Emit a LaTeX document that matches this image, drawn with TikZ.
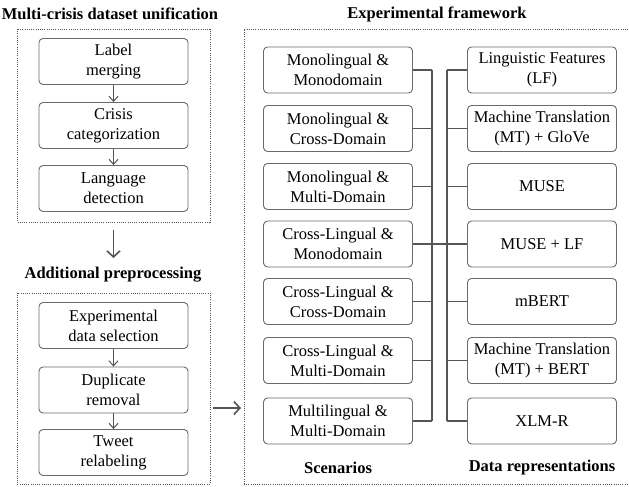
\documentclass[tikz,border=0pt]{standalone}
\usepackage{fontspec}
\setmainfont{Liberation Serif}
\usetikzlibrary{arrows.meta}
\definecolor{bordergray}{HTML}{6A6A6A}
\definecolor{linegray}{HTML}{555555}
\tikzset{
  box/.style={draw=bordergray, line width=0.9pt, rounded corners=4pt, minimum width=149pt, minimum height=46pt, inner sep=0pt, align=center, font=\fontsize{16.5}{20}\selectfont},
  title/.style={font=\fontsize{16.5}{20}\selectfont\bfseries, inner sep=0pt},
  frame/.style={draw=linegray, line width=0.9pt, dash pattern=on 1pt off 1.2pt},
  small/.style={draw=linegray, line width=1pt, -{Straight Barb[length=5pt,width=9pt]}},
  big/.style={draw=linegray, line width=1.6pt, -{Straight Barb[length=6pt,width=13pt]}},
  bus/.style={draw=linegray, line width=1.4pt}
}
\begin{document}
\begin{tikzpicture}[x=1pt,y=-1pt]
\useasboundingbox (0,0) rectangle (629,487);
% Left top panel
\node[title] (t1) at (110,14) {Multi-crisis dataset unification};
\draw[frame] (17,29) rectangle (210,222);
\node[box] (a1) at (113.5,61.5) {Label\\merging};
\node[box] (a2) at (113.5,125.5) {Crisis\\categorization};
\node[box] (a3) at (113.5,188.5) {Language\\detection};
\draw[small] (a1) -- (a2);
\draw[small] (a2) -- (a3);
\coordinate (d1) at (113.5,230);
\coordinate (d2) at (113.5,258);
\draw[big] (d1) -- (d2);
% Left bottom panel
\node[title] (t2) at (113,275) {Additional preprocessing};
\draw[frame] (17,293) rectangle (210,484);
\node[box] (b1) at (113.5,325.5) {Experimental\\data selection};
\node[box] (b2) at (113.5,390) {Duplicate\\removal};
\node[box] (b3) at (113.5,452.5) {Tweet\\relabeling};
\draw[small] (b1) -- (b2);
\draw[small] (b2) -- (b3);
\coordinate (r1) at (213,408);
\coordinate (r2) at (241,408);
\draw[big] (r1) -- (r2);
% Right panel
\node[title] (t3) at (437,14) {Experimental framework};
\draw[frame] (244,484) -- (244,29) -- (640,29);
\draw[frame] (244,484) -- (640,484);
\foreach \n/\y/\txt in {1/70/{Monolingual \&\\Monodomain},2/128.5/{Monolingual \&\\Cross-Domain},3/186.5/{Monolingual \&\\Multi-Domain},4/244/{Cross-Lingual \&\\Monodomain},5/301.5/{Cross-Lingual \&\\Cross-Domain},6/360.5/{Cross-Lingual \&\\Multi-Domain},7/421/{Multilingual \&\\Multi-Domain}}{
  \node[box] (s\n) at (338,\y) {\txt};
}
\foreach \n/\y/\txt in {1/70/{Linguistic Features\\(LF)},2/128.5/{Machine Translation\\(MT) + GloVe},3/186.5/{MUSE},4/244/{MUSE + LF},5/301.5/{mBERT},6/360.5/{Machine Translation\\(MT) + BERT},7/421/{XLM-R}}{
  \node[box] (m\n) at (542,\y) {\txt};
}
\coordinate (lb1) at (432,70);
\coordinate (lb7) at (432,421);
\coordinate (rb1) at (447,70);
\coordinate (rb7) at (447,421);
\draw[bus] (lb1) -- (lb7);
\draw[bus] (rb1) -- (rb7);
\foreach \n in {1,2,3,5,6,7}{
  \draw[bus] (s\n.east) -- (s\n.east -| lb1);
  \draw[bus] (m\n.west) -- (m\n.west -| rb1);
}
\draw[bus] (s4.east) -- (m4.west);
\node[title] (sc) at (338,468) {Scenarios};
\node[title] (dr) at (542,468) {Data representations};
\end{tikzpicture}
\end{document}
